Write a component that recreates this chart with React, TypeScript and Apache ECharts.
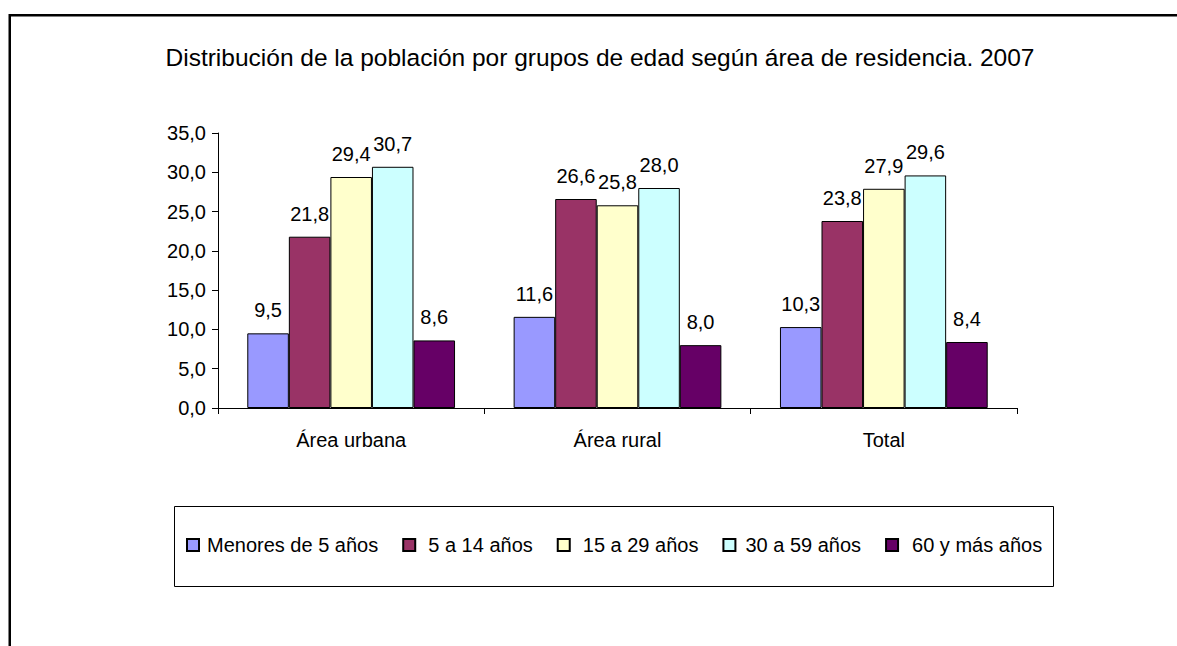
import React, { useEffect, useRef } from "react";
import * as echarts from "echarts";

const title = "Distribución de la población por grupos de edad según área de residencia. 2007";
const categories = ["Área urbana", "Área rural", "Total"];
const seriesNames = ["Menores de 5 años", "5 a 14 años", "15 a 29 años", "30 a 59 años", "60 y más años"];
const menores5 = [9.5, 11.6, 10.3];
const de5a14 = [21.8, 26.6, 23.8];
const de15a29 = [29.4, 25.8, 27.9];
const de30a59 = [30.7, 28.0, 29.6];
const de60mas = [8.6, 8.0, 8.4];
const seriesValues = [menores5, de5a14, de15a29, de30a59, de60mas];
const colors = ["#9999FF", "#993366", "#FFFFCC", "#CCFFFF", "#660066"];
const legendTextPad = [3, 8, 8, 5, 9];

const FONT = "Liberation Sans, Arial, sans-serif";
const fmt = (v: number) => v.toFixed(1).replace(".", ",");

export default function App() {
  const ref = useRef<HTMLDivElement>(null);
  useEffect(() => {
    if (!ref.current) return;
    const chart = echarts.init(ref.current, null, { renderer: "svg" });
    chart.setOption({
      animation: false,
      backgroundColor: "#fff",
      textStyle: { fontFamily: FONT },
      title: {
        text: title,
        left: 595,
        textAlign: "center",
        top: 40,
        textStyle: { fontFamily: FONT, fontSize: 24.5, fontWeight: "normal", color: "#000" },
      },
      graphic: [
        {
          type: "rect",
          shape: { x: 9.75, y: 15.25, width: 1300, height: 800 },
          style: { fill: "none", stroke: "#000", lineWidth: 2.5 },
          silent: true,
        },
        {
          type: "rect",
          shape: { x: 174.5, y: 506.5, width: 879, height: 80 },
          style: { fill: "none", stroke: "#000", lineWidth: 1 },
          silent: true,
        },
      ],
      legend: {
        data: seriesNames.map((name, i) => ({
          name,
          textStyle: { padding: [0, 0, 0, legendTextPad[i]] },
        })),
        left: 186,
        top: 535,
        padding: 0,
        itemWidth: 12,
        itemHeight: 12,
        itemGap: 24,
        icon: "rect",
        textStyle: { fontFamily: FONT, fontSize: 20, color: "#000" },
      },
      grid: { left: 218, right: 160, top: 133, bottom: 238 },
      xAxis: {
        type: "category",
        data: categories,
        axisLine: { lineStyle: { color: "#000", width: 1 } },
        axisTick: { show: true, length: 6, alignWithLabel: false, lineStyle: { color: "#000" } },
        axisLabel: { fontFamily: FONT, fontSize: 20, color: "#000", margin: 22 },
      },
      yAxis: {
        type: "value",
        min: 0,
        max: 35,
        interval: 5,
        axisLine: { show: true, lineStyle: { color: "#000", width: 1 } },
        axisTick: { show: true, length: 6, lineStyle: { color: "#000" } },
        splitLine: { show: false },
        axisLabel: { fontFamily: FONT, fontSize: 20, color: "#000", margin: 12, formatter: (v: number) => fmt(v) },
      },
      series: seriesNames.map((name, i) => ({
        name,
        type: "bar",
        data: seriesValues[i],
        barGap: "0%",
        barCategoryGap: "22%",
        itemStyle: { color: colors[i], borderColor: "#000", borderWidth: 1 },
        label: {
          show: true,
          position: "top",
          distance: 13,
          fontFamily: FONT,
          fontSize: 20,
          color: "#000",
          formatter: (p: any) => fmt(p.value),
        },
      })),
    });
    return () => chart.dispose();
  }, []);
  return <div ref={ref} style={{ position: "absolute", left: 0, top: 0, width: 1177, height: 646 }} />;
}
